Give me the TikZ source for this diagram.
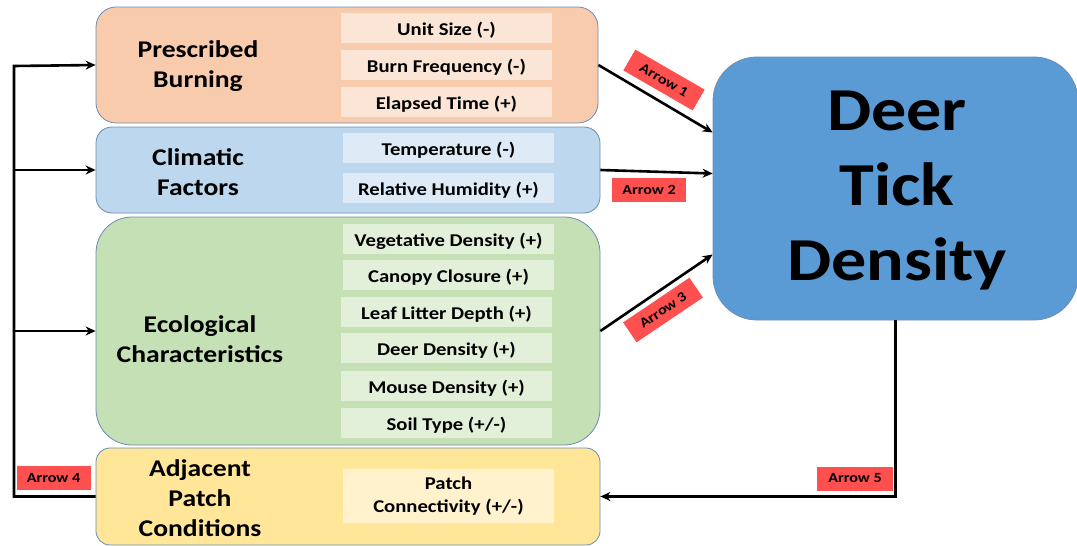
\documentclass[tikz,border=0pt]{standalone}
\usepackage{fontspec}
\setmainfont{Carlito}[FakeStretch=1.15]
\usetikzlibrary{arrows.meta,calc}
\definecolor{bord}{HTML}{6A8DB5}
\definecolor{pbfill}{HTML}{F8CBAD}
\definecolor{pbsub}{HTML}{FBE5D6}
\definecolor{cffill}{HTML}{BDD7EE}
\definecolor{cfsub}{HTML}{DEEBF7}
\definecolor{ecfill}{HTML}{C5E0B4}
\definecolor{ecsub}{HTML}{E2F0D9}
\definecolor{apfill}{HTML}{FFE699}
\definecolor{apsub}{HTML}{FFF2CC}
\definecolor{dtfill}{HTML}{5B9BD5}
\definecolor{tagred}{HTML}{FF5050}
\begin{document}
\begin{tikzpicture}[x=1pt,y=-1pt,
  grp/.style={draw=bord,line width=0.8pt,inner sep=0pt},
  sub/.style={inner sep=0pt,minimum width=211pt,minimum height=30pt,text height=15pt,text depth=0pt,font=\bfseries\fontsize{18}{20}\selectfont},
  head/.style={align=center,font=\bfseries\fontsize{24}{30}\selectfont},
  tag/.style={fill=tagred,inner sep=0pt,minimum width=74pt,minimum height=24pt,font=\bfseries\fontsize{14}{15}\selectfont},
  arr/.style={line width=2.6pt,-{Stealth[length=10pt,width=9pt]}},
  ln/.style={line width=2.6pt}]
\useasboundingbox (0,0) rectangle (1077,546);
% group boxes
\node[grp,fill=pbfill,rounded corners=20pt,minimum width=502pt,minimum height=116pt] (pb) at (347,65) {};
\node[grp,fill=cffill,rounded corners=16pt,minimum width=504pt,minimum height=86pt] (cf) at (348,170) {};
\node[grp,fill=ecfill,rounded corners=36pt,minimum width=504pt,minimum height=228pt] (ec) at (348,331) {};
\node[grp,fill=apfill,rounded corners=14pt,minimum width=504pt,minimum height=97pt] (ap) at (348,496.5) {};
\node[grp,fill=dtfill,rounded corners=44pt,minimum width=365pt,minimum height=263pt] (dt) at (895.5,188.5) {};
% headings
\node[head] (pbh) at (198,66) {Prescribed\\Burning};
\node[head] (cfh) at (198,172) {Climatic\\Factors};
\node[head] (ech) at (200,339) {Ecological\\Characteristics};
\node[head] (aph) at (200,498) {Adjacent\\Patch\\Conditions};
\node[align=center,font=\bfseries\fontsize{61}{75}\selectfont] (dth) at (897,191) {Deer\\Tick\\Density};
% sub boxes
\node[sub,fill=pbsub] (s1) at (446.5,28) {Unit Size (-)};
\node[sub,fill=pbsub] (s2) at (446.5,65) {Burn Frequency (-)};
\node[sub,fill=pbsub] (s3) at (446.5,102) {Elapsed Time (+)};
\node[sub,fill=cfsub] (s4) at (448.5,148) {Temperature (-)};
\node[sub,fill=cfsub] (s5) at (448.5,188) {Relative Humidity (+)};
\node[sub,fill=ecsub] (s6) at (448.5,239) {Vegetative Density (+)};
\node[sub,fill=ecsub] (s7) at (448.5,275) {Canopy Closure (+)};
\node[sub,fill=ecsub] (s8) at (446.5,312) {Leaf Litter Depth (+)};
\node[sub,fill=ecsub] (s9) at (446.5,348) {Deer Density (+)};
\node[sub,fill=ecsub] (s10) at (446.5,386) {Mouse Density (+)};
\node[sub,fill=ecsub] (s11) at (446.5,423) {Soil Type (+/-)};
\node[sub,fill=apsub,minimum height=54pt,text height=,text depth=,align=center,font=\bfseries\fontsize{18}{23}\selectfont] (s12) at (448.5,496) {Patch\\Connectivity (+/-)};
% arrows
\coordinate (bus) at (14,66);
\draw[arr] (pb.east) -- ($(dt.west)+(0,-56)$);
\draw[arr] (cf.east) -- ($(dt.west)+(0,-15)$);
\draw[arr] (ec.east) -- ($(dt.west)+(0,66)$);
\draw[arr] (dt.south) |- (ap.east);
\draw[arr] (ap.west) -| (bus) -- (pb.west);
\draw[arr] (bus |- cf.west) -- (cf.west);
\draw[arr] (bus |- ec.west) -- (ec.west);
% tags
\node[tag,rotate=-30,minimum width=80pt] (t1) at (664,80) {Arrow 1};
\node[tag] (t2) at (649,190) {Arrow 2};
\node[tag,rotate=34,minimum width=80pt] (t3) at (663,310) {Arrow 3};
\node[tag] (t4) at (53.5,478) {Arrow 4};
\node[tag,minimum width=76pt] (t5) at (855,478.5) {Arrow 5};
\end{tikzpicture}
\end{document}
